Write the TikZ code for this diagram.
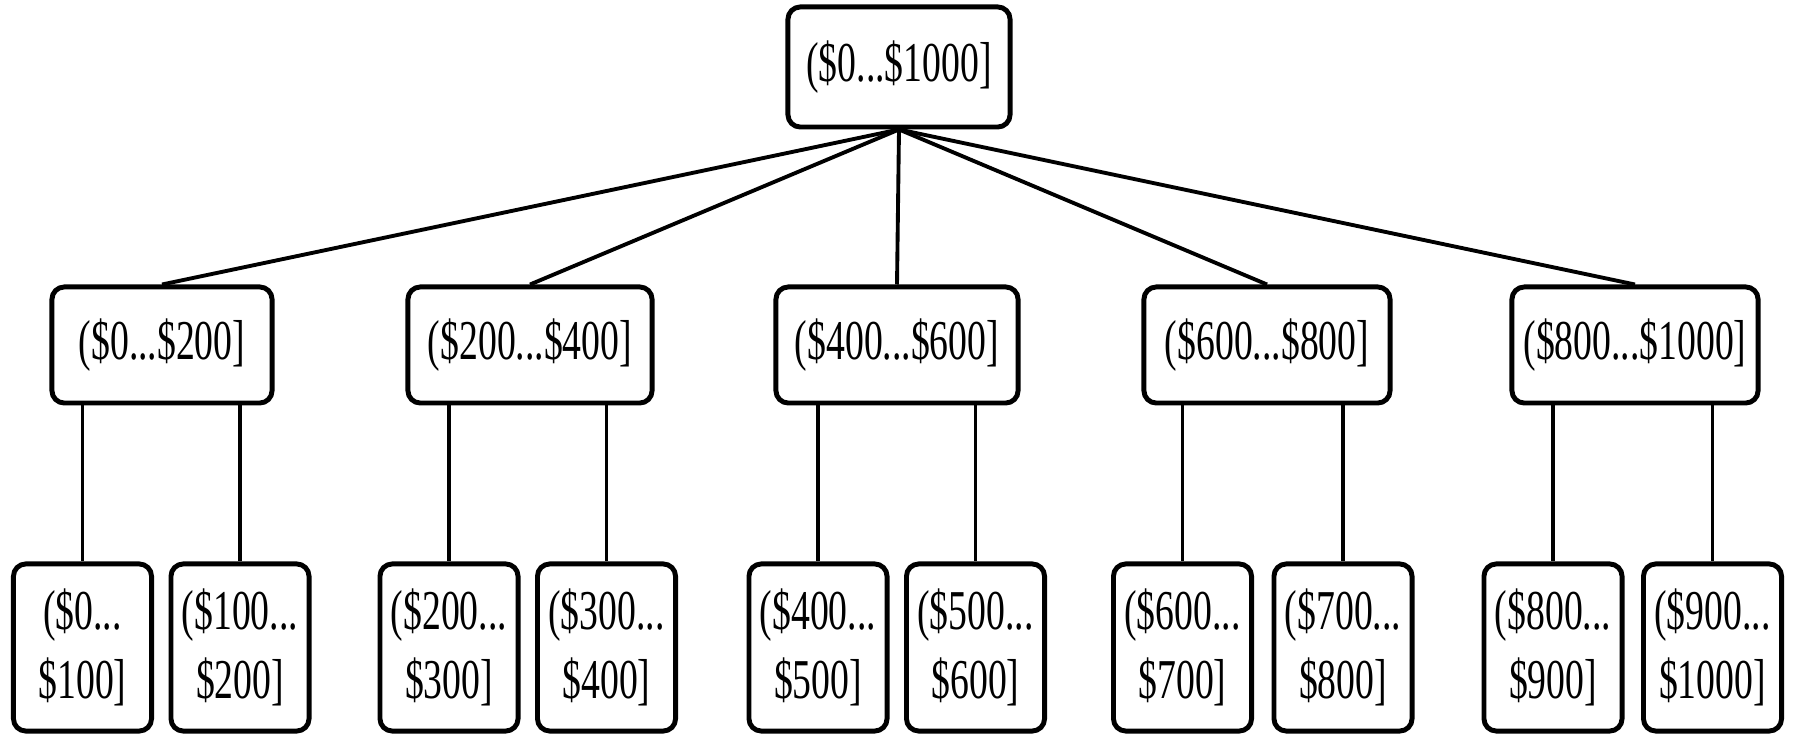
\documentclass[tikz,border=0pt]{standalone}
\usepackage{fontspec}
\setmainfont[FakeStretch=0.67]{Liberation Serif}
\tikzset{
  bucket/.style={draw,line width=1.4pt,rounded corners=3.5pt,inner sep=0pt,
    align=center,font=\fontsize{16}{19.5}\selectfont},
  edge/.style={line width=1.1pt},
}
\begin{document}
\begin{tikzpicture}[x=0.01cm,y=-0.01cm]
  \useasboundingbox (0,0) rectangle (1794,734);
  % top
  \node[bucket,minimum width=2.22cm,minimum height=1.2cm] (root) at (899,67) {(\$0...\$1000]};
  % second row
  \foreach \i/\x/\w/\a/\b in {1/162/2.20/0/200,2/530/2.44/200/400,3/897/2.42/400/600,
      4/1267/2.46/600/800,5/1635/2.46/800/1000}
    \node[bucket,minimum width=\w cm,minimum height=1.16cm] (r\i) at (\x,345) {(\$\a...\$\b]};
  % leaves
  \foreach \i/\x/\a/\b in {1/82.5/0/100,2/240/100/200,3/449/200/300,4/606.5/300/400,
      5/818/400/500,6/975.5/500/600,7/1182.5/600/700,8/1343/700/800,
      9/1553/800/900,10/1712.5/900/1000}
    \node[bucket,minimum width=1.38cm,minimum height=1.67cm] (s\i) at (\x,647.5) {(\$\a...\\\$\b]};
  \foreach \i in {1,...,5}
    \draw[edge] (root.south) -- (r\i.north);
  \foreach \i/\p in {1/1,2/1,3/2,4/2,5/3,6/3,7/4,8/4,9/5,10/5}
    \draw[edge] (s\i.north |- r\p.south) -- (s\i.north);
\end{tikzpicture}
\end{document}
